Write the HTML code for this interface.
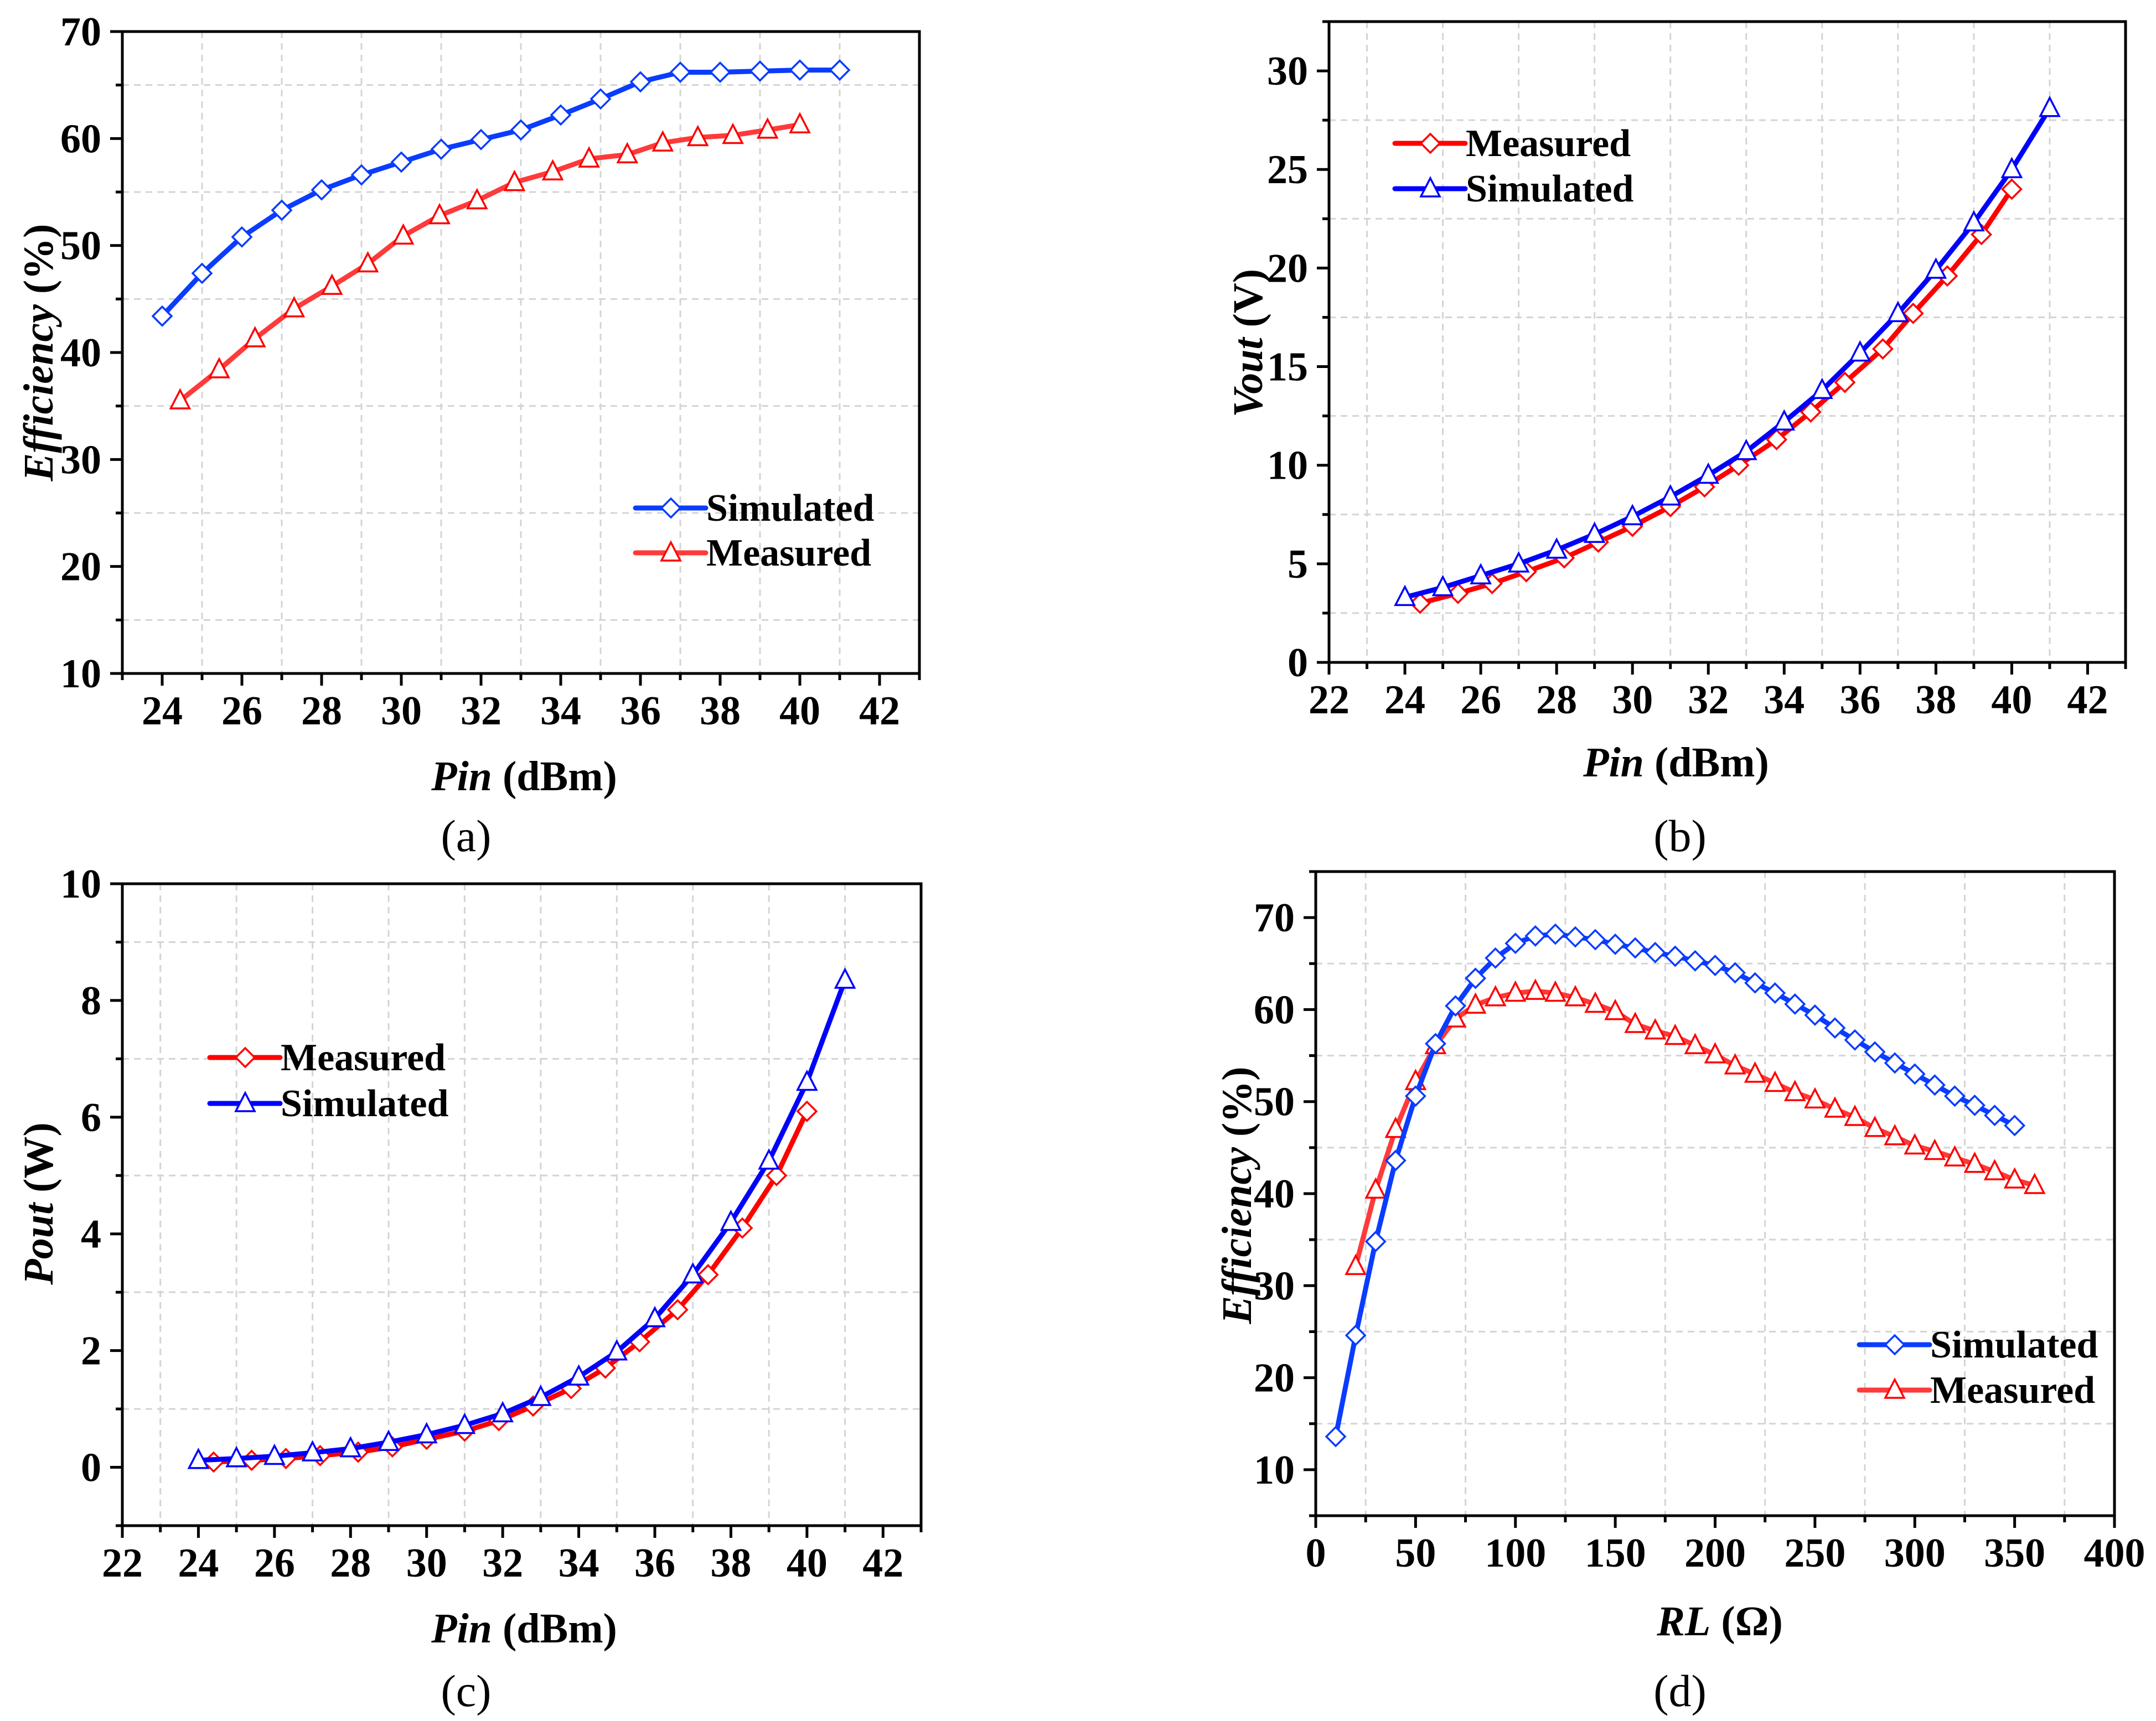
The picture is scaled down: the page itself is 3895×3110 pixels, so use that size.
<!DOCTYPE html>
<html><head><meta charset="utf-8">
<style>
html,body{margin:0;padding:0;background:#fff;}
svg{display:block;}
svg text{font-family:"Liberation Serif","Times New Roman",serif;}
</style></head>
<body>
<svg id="fig" width="3895" height="3110" viewBox="0 0 3895 3110" xmlns="http://www.w3.org/2000/svg" font-family="Liberation Serif, serif"></svg>
<script>
// ---------- Panel (a) data ----------
const aSimX = [24,25,26,27,28,29,30,31,32,33,34,35,36,37,38,39,40,41];
const aSimY = [43.4,47.4,50.8,53.3,55.2,56.6,57.8,59.0,59.9,60.8,62.2,63.7,65.3,66.2,66.2,66.3,66.4,66.4];
const aMeaX = [24.45,25.43,26.33,27.31,28.26,29.16,30.05,30.96,31.9,32.84,33.8,34.71,35.67,36.56,37.44,38.32,39.19,40.0];
const aMeaY = [35.5,38.4,41.3,44.1,46.2,48.3,50.9,52.8,54.2,55.9,56.9,58.1,58.5,59.6,60.1,60.3,60.8,61.3];
const aXTicks = [24,26,28,30,32,34,36,38,40,42];
const aYTicks = [10,20,30,40,50,60,70];
// ---------- Panel (b) data ----------
const bSimX = [24,25,26,27,28,29,30,31,32,33,34,35,36,37,38,39,40,41];
const bSimY = [3.3,3.8,4.4,5.0,5.7,6.5,7.4,8.4,9.5,10.7,12.2,13.8,15.7,17.7,19.9,22.3,25.0,28.1];
const bMeaX = [24.4,25.4,26.3,27.2,28.2,29.1,30.0,31.0,31.9,32.8,33.8,34.7,35.6,36.6,37.4,38.3,39.2,40.0];
const bMeaY = [3.0,3.5,4.0,4.6,5.3,6.1,6.9,7.9,8.9,10.0,11.3,12.7,14.2,15.9,17.7,19.6,21.7,24.0];
const bXTicks = [22,24,26,28,30,32,34,36,38,40,42];
const bYTicks = [0,5,10,15,20,25,30];
// ---------- Panel (c) data ----------
const cSimX = [24,25,26,27,28,29,30,31,32,33,34,35,36,37,38,39,40,41];
const cSimY = [0.12,0.15,0.19,0.25,0.32,0.43,0.56,0.72,0.92,1.2,1.55,1.98,2.55,3.3,4.2,5.25,6.6,8.35];
const cMeaX = [24.4,25.4,26.3,27.2,28.2,29.1,30.0,31.0,31.9,32.8,33.8,34.7,35.6,36.6,37.4,38.3,39.2,40.0];
const cMeaY = [0.09,0.12,0.15,0.2,0.26,0.35,0.48,0.62,0.8,1.05,1.35,1.7,2.15,2.7,3.3,4.1,5.0,6.1];
const cXTicks = [22,24,26,28,30,32,34,36,38,40,42];
const cYTicks = [0,2,4,6,8,10];
// ---------- Panel (d) data ----------
const dSimX = [10,20,30,40,50,60,70,80,90,100,110,120,130,140,150,160,170,180,190,200,210,220,230,240,250,260,270,280,290,300,310,320,330,340,350];
const dSimY = [13.6,24.6,34.8,43.6,50.6,56.3,60.4,63.4,65.6,67.2,68.0,68.2,67.9,67.6,67.1,66.7,66.2,65.8,65.3,64.8,64.0,62.9,61.8,60.6,59.4,58.0,56.7,55.4,54.2,53.0,51.8,50.6,49.6,48.5,47.4];
const dMeaX = [20,30,40,50,60,70,80,90,100,110,120,130,140,150,160,170,180,190,200,210,220,230,240,250,260,270,280,290,300,310,320,330,340,350,360];
const dMeaY = [32.1,40.4,47.0,52.2,56.1,59.0,60.5,61.3,61.8,62.0,61.8,61.3,60.6,59.8,58.4,57.7,57.1,56.1,55.1,53.9,53.0,52.0,51.0,50.2,49.2,48.3,47.1,46.2,45.2,44.6,43.9,43.2,42.4,41.5,40.9];
const dXTicks = [0,50,100,150,200,250,300,350,400];
const dYTicks = [10,20,30,40,50,60,70];

const NS = "http://www.w3.org/2000/svg";
const FONT = '"Liberation Serif", "Times New Roman", serif';
const svg = document.getElementById('fig');
function mk(tag, attrs, parent){
  const e = document.createElementNS(NS, tag);
  for (const k in attrs) e.setAttribute(k, attrs[k]);
  if (tag === 'text') e.style.fontFamily = FONT;
  (parent||svg).appendChild(e);
  return e;
}

function marker(g, kind, x, y, color){
  const r = 17;
  if (kind === 'diamond'){
    return mk('polygon', {points:`${x},${y-r} ${x+r},${y} ${x},${y+r} ${x-r},${y}`, fill:'#fff', stroke:color, 'stroke-width':3.5}, g);
  }
  return mk('polygon', {points:`${x},${y-r-2} ${x+r},${y+r-3} ${x-r},${y+r-3}`, fill:'#fff', stroke:color, 'stroke-width':3.5}, g);
}

function panel(p){
  const g = mk('g', {});
  
  
  const sx = v => p.L + (v - p.x0) / (p.x1 - p.x0) * (p.R - p.L);
  const sy = v => p.B - (v - p.y0) / (p.y1 - p.y0) * (p.B - p.T);
  const grid = mk('g', {stroke:'#d4d4d4', 'stroke-width':3, 'stroke-dasharray':'12 9', fill:'none'}, g);
  
  
  for (let v = p.xg0; v < p.x1 - 1e-9; v += p.xMajor) { if (v > p.x0) mk('line', {x1:sx(v), x2:sx(v), y1:p.T, y2:p.B}, grid); }
  for (let v = p.yg0; v < p.y1 - 1e-9; v += p.yMajor) { if (v > p.y0) mk('line', {x1:p.L, x2:p.R, y1:sy(v), y2:sy(v)}, grid); }
  p.series.forEach(s => {
    const sg = mk('g', {}, g);
    
    
    const pts = s.xs.map((x, i) => sx(x) + ',' + sy(s.ys[i])).join(' ');
    const ln = mk('polyline', {points:pts, fill:'none', stroke:s.line, 'stroke-width':9, 'stroke-linejoin':'round', 'stroke-linecap':'round'}, sg);
    
    
    s.xs.forEach((x, i) => {
      const m = marker(sg, s.marker, sx(x), sy(s.ys[i]), s.mk);
      
      
    });
  });
  const fr = mk('rect', {x:p.L, y:p.T, width:p.R - p.L, height:p.B - p.T, fill:'none', stroke:'#000', 'stroke-width':5}, g);
  
  
  const tk = mk('g', {stroke:'#000', 'stroke-width':5}, g);
  
  
  const xs0 = Math.ceil(p.x0 / p.xMinor - 1e-9) * p.xMinor;
  for (let v = xs0; v <= p.x1 + 1e-9; v += p.xMinor) {
    const maj = Math.abs(Math.round(v / p.xMajor) * p.xMajor - v) < 1e-6;
    mk('line', {x1:sx(v), x2:sx(v), y1:p.B, y2:p.B + (maj ? 22 : 12)}, tk);
  }
  const ys0 = Math.ceil(p.y0 / p.yMinor - 1e-9) * p.yMinor;
  for (let v = ys0; v <= p.y1 + 1e-9; v += p.yMinor) {
    const maj = Math.abs(Math.round(v / p.yMajor) * p.yMajor - v) < 1e-6;
    mk('line', {x1:p.L, x2:p.L - (maj ? 22 : 12), y1:sy(v), y2:sy(v)}, tk);
  }
  p.xTicks.forEach(v => {
    const t = mk('text', {x:sx(v), y:p.B + 92, 'text-anchor':'middle', 'font-size':74, 'font-weight':'bold'}, g);
    t.textContent = v;
    
    
  });
  p.yTicks.forEach(v => {
    const t = mk('text', {x:p.L - 38, y:sy(v) + 25, 'text-anchor':'end', 'font-size':74, 'font-weight':'bold'}, g);
    t.textContent = v;
    
    
  });
  const xt = mk('text', {x:p.xtX, y:p.xtY, 'text-anchor':'middle', 'font-size':76, 'font-weight':'bold'}, g);
  xt.innerHTML = p.xTitle;
  
  
  const yt = mk('text', {x:0, y:0, 'text-anchor':'middle', 'font-size':76, 'font-weight':'bold', transform:`translate(${p.ytX},${p.ytY}) rotate(-90)`}, g);
  yt.innerHTML = p.yTitle;
  
  
  const sl = mk('text', {x:p.slX, y:p.slY, 'text-anchor':'middle', 'font-size':82}, g);
  sl.textContent = '(' + p.id + ')';
  
  
  const lg = mk('g', {}, g);
  
  
  p.legend.forEach((s, i) => {
    const y = p.lgY[i];
    const eg = mk('g', {}, lg);
    
    
    mk('line', {x1:p.lgX, x2:p.lgX + 127, y1:y, y2:y, stroke:s.line, 'stroke-width':9, 'stroke-linecap':'round'}, eg);
    marker(eg, s.marker, p.lgX + 64, y, s.mk);
    const t = mk('text', {x:p.lgX + 128, y:y + 23, 'font-size':70, 'font-weight':'bold'}, eg);
    t.textContent = s.name;
  });
}

const BLUE_A = '#0a3cff', RED_A = '#ff3a3a';
const simA = {name:'Simulated', line:BLUE_A, mk:'#0a3cff', marker:'diamond'};
const meaA = {name:'Measured', line:RED_A, mk:'#ff0000', marker:'triangle'};
const meaB = {name:'Measured', line:'#ff0000', mk:'#ff0000', marker:'diamond'};
const simB = {name:'Simulated', line:'#0000ff', mk:'#0000ff', marker:'triangle'};

panel({id:'a', L:221, R:1661, T:57, B:1217, x0:23, x1:43, y0:10, y1:70,
  xMajor:2, xMinor:1, yMajor:10, yMinor:5, xg0:25, yg0:15,
  xTicks:aXTicks, yTicks:aYTicks,
  series:[Object.assign({xs:aMeaX, ys:aMeaY}, meaA), Object.assign({xs:aSimX, ys:aSimY}, simA)],
  legend:[simA, meaA], lgX:1148, lgY:[918, 999],
  xTitle:'<tspan font-style="italic">Pin</tspan> (dBm)', xtX:947, xtY:1428,
  yTitle:'<tspan font-style="italic">Efficiency</tspan> (%)', ytX:95, ytY:637,
  slX:842, slY:1538});

panel({id:'b', L:2401, R:3840, T:39, B:1197, x0:22, x1:43, y0:0, y1:32.5,
  xMajor:2, xMinor:1, yMajor:5, yMinor:2.5, xg0:23, yg0:2.5,
  xTicks:bXTicks, yTicks:bYTicks,
  series:[Object.assign({xs:bMeaX, ys:bMeaY}, meaB), Object.assign({xs:bSimX, ys:bSimY}, simB)],
  legend:[meaB, simB], lgX:2520, lgY:[259, 341],
  xTitle:'<tspan font-style="italic">Pin</tspan> (dBm)', xtX:3028, xtY:1403,
  yTitle:'<tspan font-style="italic">Vout</tspan> (V)', ytX:2280, ytY:620,
  slX:3035, slY:1538});

panel({id:'c', L:221, R:1664, T:1597, B:2757, x0:22, x1:43, y0:-1, y1:10,
  xMajor:2, xMinor:1, yMajor:2, yMinor:1, xg0:23, yg0:1,
  xTicks:cXTicks, yTicks:cYTicks,
  series:[Object.assign({xs:cMeaX, ys:cMeaY}, meaB), Object.assign({xs:cSimX, ys:cSimY}, simB)],
  legend:[meaB, simB], lgX:379, lgY:[1911, 1994],
  xTitle:'<tspan font-style="italic">Pin</tspan> (dBm)', xtX:947, xtY:2968,
  yTitle:'<tspan font-style="italic">Pout</tspan> (W)', ytX:95, ytY:2175,
  slX:842, slY:3083});

panel({id:'d', L:2377, R:3820, T:1575, B:2739, x0:0, x1:400, y0:5, y1:75,
  xMajor:50, xMinor:25, yMajor:10, yMinor:5, xg0:25, yg0:15,
  xTicks:dXTicks, yTicks:dYTicks,
  series:[Object.assign({xs:dMeaX, ys:dMeaY}, meaA), Object.assign({xs:dSimX, ys:dSimY}, simA)],
  legend:[simA, meaA], lgX:3359, lgY:[2430, 2512],
  xTitle:'<tspan font-style="italic">RL</tspan> (Ω)', xtX:3107, xtY:2955,
  yTitle:'<tspan font-style="italic">Efficiency</tspan> (%)', ytX:2260, ytY:2160,
  slX:3035, slY:3083});
</script>
</body></html>
